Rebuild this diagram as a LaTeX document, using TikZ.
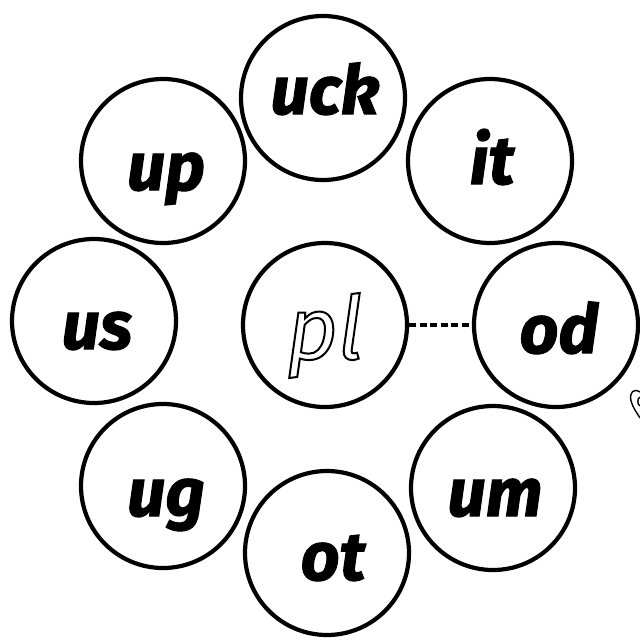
\documentclass[tikz,border=0pt]{standalone}
\usepackage{fontspec}
\setmainfont{Fira Sans}
\newfontfamily\kid{Fira Sans}[BoldItalicFeatures={FakeBold=1.6}]
\newcommand{\hollow}[1]{\special{pdf:code 1 Tr 2 w}#1\special{pdf:code 0 Tr}}
\begin{document}
\begin{tikzpicture}[x=1pt,y=-1pt,
  ring/.style={circle,draw=black,line width=4.2pt,minimum size=164pt,inner sep=0pt},
  word/.style={anchor=base,inner sep=0pt,font=\fontsize{68}{68}\selectfont\kid\bfseries\itshape},
  link/.style={line width=3.2pt,dash pattern=on 7pt off 3.5pt}]
\useasboundingbox (0,0) rectangle (640,640);
\fill[white] (0,0) rectangle (640,640);
% circles
\node[ring] (c-uck) at (323,98) {};
\node[ring] (c-up) at (163,161) {};
\node[ring] (c-it) at (490,161) {};
\node[ring] (c-us) at (94,321) {};
\node[ring] (c-pl) at (325,325) {};
\node[ring] (c-od) at (556,325) {};
\node[ring] (c-ug) at (163,486) {};
\node[ring] (c-ot) at (327,553) {};
\node[ring] (c-um) at (493,488) {};
% words
\node[word] (t-uck) at (325,114) {uck};
\node[word] (t-up) at (166,190) {up};
\node[word] (t-it) at (492,184) {it};
\node[word] (t-us) at (97,349) {us};
\node[word] (t-od) at (559,353) {od};
\node[word] (t-ug) at (166,516) {ug};
\node[word] (t-ot) at (333,580) {ot};
\node[word] (t-um) at (495,516) {um};
\node[anchor=base,inner sep=0pt,font=\fontsize{88}{88}\selectfont\itshape] (t-pl) at (325,359) {\hollow{pl}};
% connector
\draw[link] (c-pl.east) -- (c-od.west);
% clipped fragment at the right edge
\draw[line width=1.4pt] (640,392) .. controls (634,388) and (629,392) .. (631,401) .. controls (633,408) and (637,413) .. (640,418);
\draw[line width=1.4pt] (640,397) .. controls (637,399) and (637,404) .. (640,406);
\end{tikzpicture}
\end{document}
